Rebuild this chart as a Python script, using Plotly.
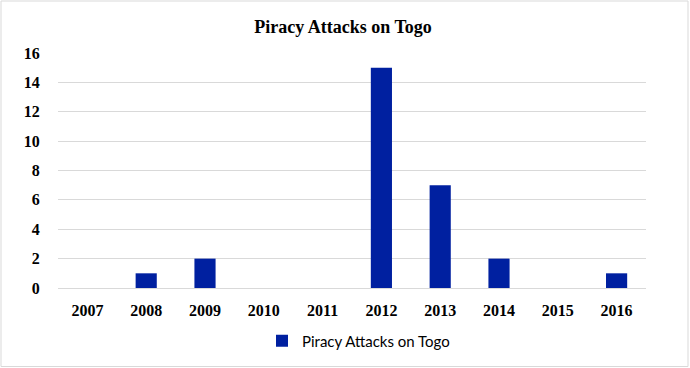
import plotly.graph_objects as go

years = ["2007", "2008", "2009", "2010", "2011", "2012", "2013", "2014", "2015", "2016"]
attacks = [0, 1, 2, 0, 0, 15, 7, 2, 0, 1]
y_ticks = [0, 2, 4, 6, 8, 10, 12, 14, 16]
series_name = "Piracy Attacks on Togo"

W, H = 690, 368
L, R, T, B = 58, 44, 53, 80
pw, ph = W - L - R, H - T - B

def px_x(x):
    return (x - L) / pw

def px_y(y):
    return (H - B - y) / ph

serif = "Liberation Serif"

fig = go.Figure()
fig.add_trace(go.Bar(
    x=years, y=attacks, name=series_name,
    marker=dict(color="#0020A0", line=dict(width=0)),
    width=0.36, showlegend=True,
))

fig.update_layout(
    width=W, height=H,
    margin=dict(l=L, r=R, t=T, b=B, autoexpand=False),
    paper_bgcolor="white", plot_bgcolor="white",
    title=dict(text="Piracy Attacks on Togo", x=343 / W,
               xanchor="center", y=1 - 27 / H, yanchor="middle", yref="container",
               font=dict(family=serif, size=18, color="black", weight="bold"), automargin=False),
    showlegend=True,
    legend=dict(orientation="h", x=px_x(262), xanchor="left", y=1 - 341 / H, yref="container",
                yanchor="middle", itemwidth=30,
                font=dict(family="Lato", size=15, color="black"),
                bgcolor="rgba(0,0,0,0)"),
    xaxis=dict(tickfont=dict(family=serif, size=16, color="black", weight="bold"), showgrid=False,
               showline=False, ticks="outside", ticklen=8, tickcolor="rgba(0,0,0,0)",
               automargin=False),
    yaxis=dict(range=[0, 16], tickmode="array", tickvals=y_ticks,
               ticktext=[str(v) for v in y_ticks],
               showgrid=True, gridcolor="#d9d9d9", gridwidth=1,
               zeroline=True, zerolinecolor="#d9d9d9", zerolinewidth=1,
               tickfont=dict(family=serif, size=16, color="black", weight="bold"),
               ticks="outside", ticklen=14, tickcolor="rgba(0,0,0,0)",
               automargin=False),
    bargap=0.64,
)

fig.add_shape(type="rect", xref="paper", yref="paper",
              x0=px_x(1), x1=px_x(688), y0=px_y(366.5), y1=px_y(1),
              line=dict(color="#d9d9d9", width=1), fillcolor="rgba(0,0,0,0)", layer="below")

fig.write_html("out.html", config={"displayModeBar": False},
               post_script="document.body.style.margin='0';document.body.style.overflow='hidden';")
